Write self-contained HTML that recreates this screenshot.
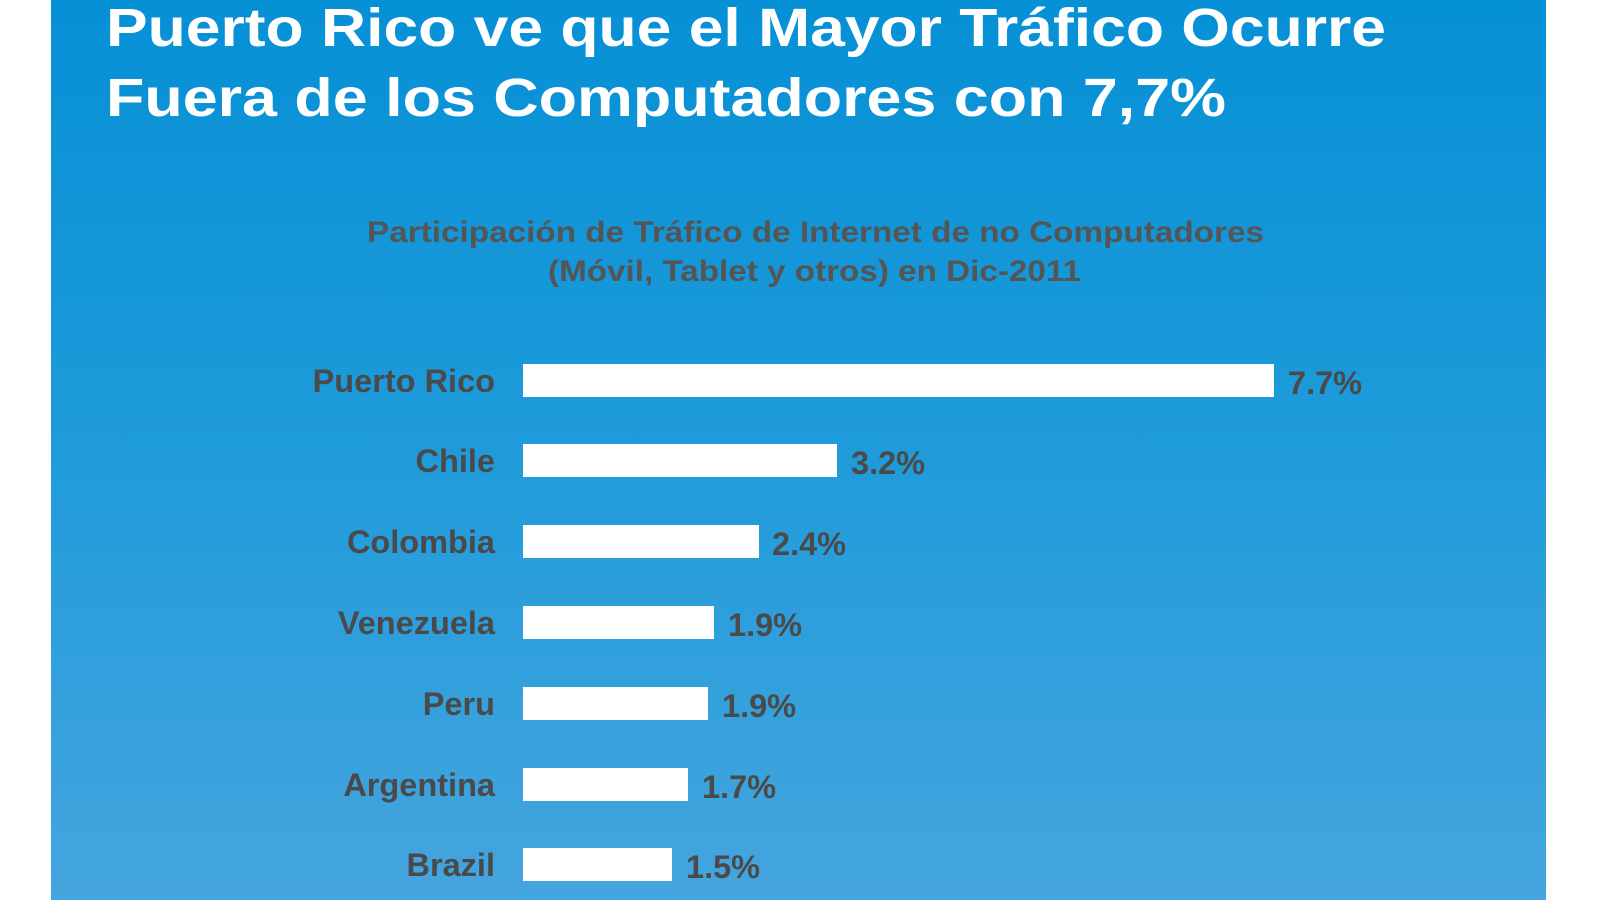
<!DOCTYPE html>
<html><head><meta charset="utf-8"><style>
html,body{margin:0;padding:0;background:#fff;width:1600px;height:900px;overflow:hidden}
svg{display:block}
</style></head><body>
<svg width="1600" height="900" viewBox="0 0 1600 900" xmlns="http://www.w3.org/2000/svg">
<defs><linearGradient id="g" x1="0" y1="0" x2="0" y2="1">
<stop offset="0" stop-color="#0690d5"/><stop offset="0.5" stop-color="#1f9bda"/><stop offset="1" stop-color="#45a5de"/></linearGradient></defs>
<rect x="51" y="0" width="1495" height="900" fill="url(#g)"/>
<g font-family="Liberation Sans, Arial, sans-serif" font-weight="bold">
<text x="106" y="46" font-size="54" fill="#fff" textLength="1280" lengthAdjust="spacingAndGlyphs">Puerto Rico ve que el Mayor Tráfico Ocurre</text>
<text x="106" y="116" font-size="54" fill="#fff" textLength="1120" lengthAdjust="spacingAndGlyphs">Fuera de los Computadores con 7,7%</text>
<text x="367" y="242" font-size="30" fill="#555" textLength="897" lengthAdjust="spacingAndGlyphs">Participación de Tráfico de Internet de no Computadores</text>
<text x="548" y="281" font-size="30" fill="#555" textLength="533" lengthAdjust="spacingAndGlyphs">(Móvil, Tablet y otros) en Dic-2011</text>
<g fill="#4a4a4a" font-size="32.5">
<text x="495" y="392" text-anchor="end">Puerto Rico</text>
<text x="495" y="472" text-anchor="end">Chile</text>
<text x="495" y="553" text-anchor="end">Colombia</text>
<text x="495" y="634" text-anchor="end">Venezuela</text>
<text x="495" y="715" text-anchor="end">Peru</text>
<text x="495" y="796" text-anchor="end">Argentina</text>
<text x="495" y="876" text-anchor="end">Brazil</text>
</g>
<g fill="#fff">
<rect x="523" y="364" width="751" height="33"/>
<rect x="523" y="444" width="314" height="33"/>
<rect x="523" y="525" width="236" height="33"/>
<rect x="523" y="606" width="191" height="33"/>
<rect x="523" y="687" width="185" height="33"/>
<rect x="523" y="768" width="165" height="33"/>
<rect x="523" y="848" width="149" height="33"/>
</g>
<g fill="#4a4a4a" font-size="32.5">
<text x="1288" y="394">7.7%</text>
<text x="851" y="474">3.2%</text>
<text x="772" y="555">2.4%</text>
<text x="728" y="636">1.9%</text>
<text x="722" y="717">1.9%</text>
<text x="702" y="798">1.7%</text>
<text x="686" y="878">1.5%</text>
</g>
</g>
</svg>
</body></html>
